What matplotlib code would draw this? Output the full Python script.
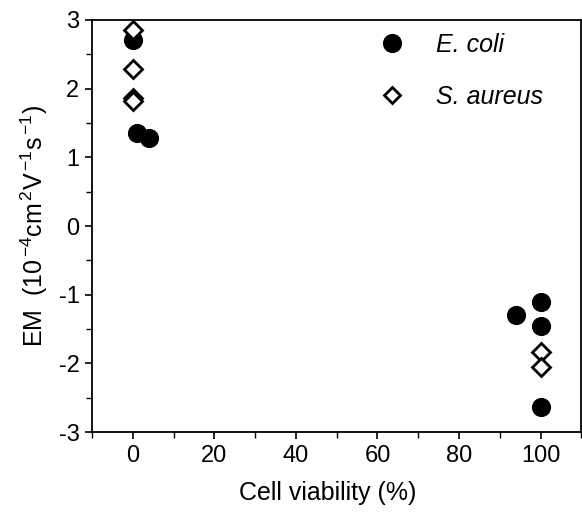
import matplotlib
matplotlib.use("Agg")
import matplotlib.pyplot as plt
from matplotlib.ticker import MultipleLocator

plt.rcParams['font.family'] = ['Liberation Sans', 'DejaVu Sans']
plt.rcParams['mathtext.fontset'] = 'custom'
plt.rcParams['mathtext.rm'] = 'Liberation Sans'
plt.rcParams['mathtext.it'] = 'Liberation Sans:italic'
plt.rcParams['axes.unicode_minus'] = False

# Electrophoretic mobility vs. cell viability
ecoli_viability = [0, 1, 4, 94, 100, 100, 100]
ecoli_em = [2.71, 1.35, 1.28, -1.29, -1.11, -1.46, -2.63]

saureus_viability = [0, 0, 0, 0, 100, 100]
saureus_em = [2.85, 2.29, 1.87, 1.82, -1.83, -2.06]

x_ticks = [0, 20, 40, 60, 80, 100]
y_ticks = [-3, -2, -1, 0, 1, 2, 3]

fig = plt.figure(figsize=(5.82, 5.14), dpi=100)
ax = fig.add_axes([0.158, 0.1595, 0.841, 0.8016])

ax.plot(ecoli_viability, ecoli_em, linestyle='none', marker='o',
        markersize=12.8, color='black', label='E. coli')
ax.plot(saureus_viability, saureus_em, linestyle='none', marker='D',
        markersize=9.5, markerfacecolor='white', markeredgecolor='black',
        markeredgewidth=2.0, label='S. aureus')

ax.set_xlim(-10, 110)
ax.set_ylim(-3, 3)
ax.set_xticks(x_ticks)
ax.set_yticks(y_ticks)
ax.xaxis.set_minor_locator(MultipleLocator(10))
ax.yaxis.set_minor_locator(MultipleLocator(0.5))
ax.tick_params(which='major', direction='out', length=5, width=1.2,
               labelsize=17, pad=4)
ax.tick_params(which='minor', direction='out', length=4, width=1.0)
for s in ax.spines.values():
    s.set_linewidth(1.3)

ax.set_xlabel('Cell viability (%)', fontsize=18)
ax.xaxis.set_label_coords(0.482, -0.118)
ax.xaxis.label.set_verticalalignment('top')
ax.set_ylabel(r'EM  (10$^{\,\mathregular{-4}}$cm$^{\,\mathregular{2}}$V$^{\,\mathregular{-1}}$s$^{\,\mathregular{-1}}$)',
              fontsize=18, labelpad=6)

leg = ax.legend(loc='upper left', bbox_to_anchor=(0.5755, 0.968), frameon=False,
                prop={'style': 'italic', 'size': 18}, handlelength=1.5,
                handletextpad=1.0, labelspacing=1.11, borderpad=0,
                borderaxespad=0)
leg.legend_handles[1].set_markersize(8.5)

fig.savefig('out.png', dpi=100)
